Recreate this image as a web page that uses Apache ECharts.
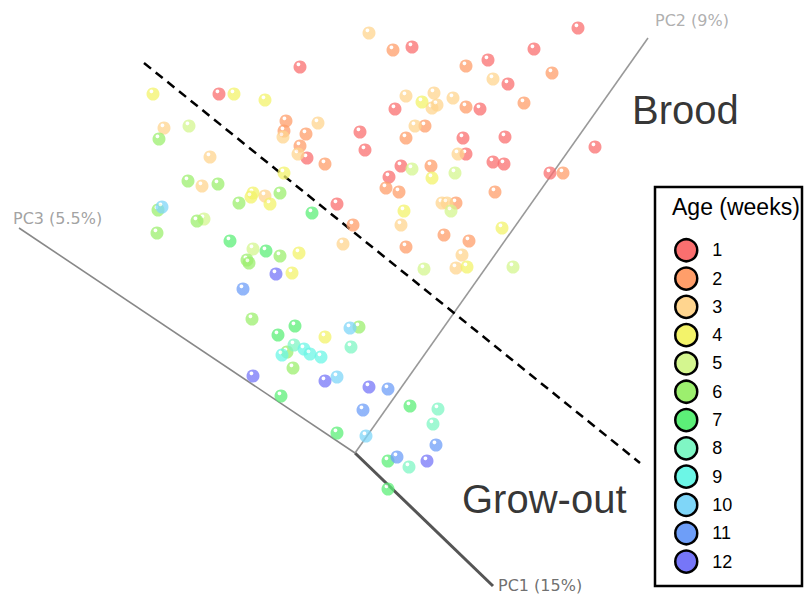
<!DOCTYPE html>
<html>
<head>
<meta charset="utf-8">
<title>PCA of samples by age</title>
<script src="https://cdn.jsdelivr.net/npm/echarts@6/dist/echarts.min.js"></script>
<style>
  html, body { margin: 0; padding: 0; background: #ffffff; }
  #chart { width: 804px; height: 594px; }
</style>
</head>
<body>
<div id="chart"></div>
<script>
// Projected PCA scores (plane of the 3-D view), grouped by age in weeks.
const age1 = [[300,67],[219,94],[307,158],[412,47],[578,28],[534,49],[488,60],[508,84],[480,109],[395,109],[360,132],[463,138],[505,137],[595,147],[365,150],[466,154],[493,162],[504,164],[550,173],[401,166],[389,177],[337,204]];
const age2 = [[286,121],[284,131],[306,134],[300,146],[393,50],[466,66],[552,73],[466,107],[524,103],[425,126],[406,138],[431,166],[386,188],[399,192],[495,192],[456,203],[353,225],[444,235],[469,241],[406,247],[563,173],[325,164]];
const age3 = [[369,33],[493,79],[406,96],[434,93],[432,108],[437,105],[453,98],[415,126],[318,123],[164,128],[283,137],[210,157],[298,154],[458,154],[202,186],[265,196],[442,203],[447,203],[401,225],[343,244],[462,255],[456,268]];
const age4 = [[153,94],[234,94],[265,100],[422,102],[284,173],[253,193],[251,197],[270,204],[432,178],[404,211],[502,228],[467,267],[299,253],[292,273],[325,337]];
const age5 = [[189,126],[204,219],[253,249],[412,169],[455,173],[451,211],[424,269],[513,267]];
const age6 = [[159,139],[188,181],[218,184],[239,203],[280,193],[158,210],[197,221],[157,233],[247,260],[249,263],[280,256],[252,319],[359,327],[287,352],[293,368]];
const age7 = [[312,213],[230,241],[266,251],[295,326],[278,335],[281,396],[410,406],[337,433],[388,461],[388,489]];
const age8 = [[294,345],[351,347],[438,409],[433,424],[409,467]];
const age9 = [[282,355],[304,349],[310,354],[321,357]];
const age10 = [[162,207],[350,328],[337,377],[366,436]];
const age11 = [[243,289],[363,410],[388,389],[436,445],[397,457]];
const age12 = [[276,274],[253,376],[325,381],[369,387],[427,461]];

const ageGroups = [age1, age2, age3, age4, age5, age6, age7, age8, age9, age10, age11, age12];
const ageLabels = ['1','2','3','4','5','6','7','8','9','10','11','12'];
const ageColors = ['#fa6f6f','#ff9e6a','#ffd58f','#f3f36a','#d4f68f','#9cef6e','#5cef78','#7ff6c4','#6cf6e6','#7fd6f8','#6e9ef8','#7676f8'];

// Principal-component axes drawn from a common origin in the view plane.
const pcOrigin = [355, 453];
const pcNames = ['PC1 (15%)', 'PC2 (9%)', 'PC3 (5.5%)'];
const pcTips = [[493, 586], [648, 38], [19, 228]];
const pcNameAnchors = [[498, 585], [655, 20], [13, 218]];

// Dashed divider between the two production stages.
const dividerLine = [[144, 63], [640, 463]];
const stageNames = ['Brood', 'Grow-out'];
const stageAnchors = [[632, 110], [462, 499]];

const chart = echarts.init(document.getElementById('chart'), null, { renderer: 'svg' });

function ballFill(c) {
  return {
    type: 'radial', x: 0.38, y: 0.3, r: 0.75,
    colorStops: [
      { offset: 0, color: '#ffffff' },
      { offset: 0.14, color: '#ffffff' },
      { offset: 0.24, color: c },
      { offset: 1, color: c }
    ]
  };
}

const series = [];

// axis lines
const pcWidths = [3, 1.6, 1.6];
const pcColors = ['#555555', '#999999', '#888888'];
pcTips.forEach((tip, i) => {
  series.push({
    type: 'line', name: 'axis-' + i, data: [pcOrigin, tip],
    symbol: 'none', silent: true, z: 1,
    lineStyle: { color: pcColors[i], width: pcWidths[i] }
  });
});

series.push({
  type: 'line', name: 'divider', data: dividerLine,
  symbol: 'none', silent: true, z: 1,
  lineStyle: { color: '#000000', width: 2.5, type: [9, 6] }
});

// axis titles
const pcTextColors = ['#4a4a4a', '#9a9a9a', '#8a8a8a'];
series.push({
  type: 'scatter', name: 'pc-names', symbolSize: 0, silent: true, z: 2,
  data: pcNameAnchors.map((p, i) => ({
    value: p,
    label: {
      show: true, position: [0, 0], align: 'left', verticalAlign: 'middle',
      formatter: pcNames[i], color: pcTextColors[i],
      fontFamily: 'DejaVu Sans', fontSize: 16
    }
  }))
});

// stage titles
series.push({
  type: 'scatter', name: 'stage-names', symbolSize: 0, silent: true, z: 2,
  data: stageAnchors.map((p, i) => ({
    value: p,
    label: {
      show: true, position: [0, 0], align: 'left', verticalAlign: 'middle',
      formatter: stageNames[i], color: '#000000',
      fontFamily: 'Liberation Sans', fontSize: 40
    }
  }))
});

// sample points
ageGroups.forEach((pts, i) => {
  series.push({
    type: 'scatter', name: ageLabels[i], data: pts,
    symbol: 'circle', symbolSize: 13, z: 3,
    itemStyle: { color: ballFill(ageColors[i]), opacity: 0.75 }
  });
});

chart.setOption({
  animation: false,
  backgroundColor: '#ffffff',
  grid: { left: 0, right: 0, top: 0, bottom: 0 },
  xAxis: { type: 'value', min: 0, max: 804, show: false },
  yAxis: { type: 'value', min: 0, max: 594, inverse: true, show: false },
  legend: {
    orient: 'vertical', left: 674, top: 238, height: 356, width: 120,
    padding: 0,
    itemWidth: 22, itemHeight: 22, itemGap: 3.8,
    icon: 'circle', z: 5,
    textStyle: {
      fontFamily: 'Liberation Sans', fontSize: 18, lineHeight: 20,
      color: '#000000', padding: [0, 0, 0, 10]
    },
    data: ageLabels.map((n, i) => ({
      name: n,
      itemStyle: { color: ageColors[i], borderColor: '#000000', borderWidth: 2.5, opacity: 1 }
    }))
  },
  graphic: [
    {
      type: 'rect', z: 0,
      shape: { x: 655, y: 187, width: 147, height: 399 },
      style: { fill: '#ffffff', stroke: '#000000', lineWidth: 2.5 }
    },
    {
      type: 'text', z: 1, x: 672, y: 207,
      style: {
        text: 'Age (weeks)', fill: '#000000',
        font: '23px "Liberation Sans"', verticalAlign: 'middle'
      }
    }
  ],
  series: series
});
</script>
</body>
</html>
